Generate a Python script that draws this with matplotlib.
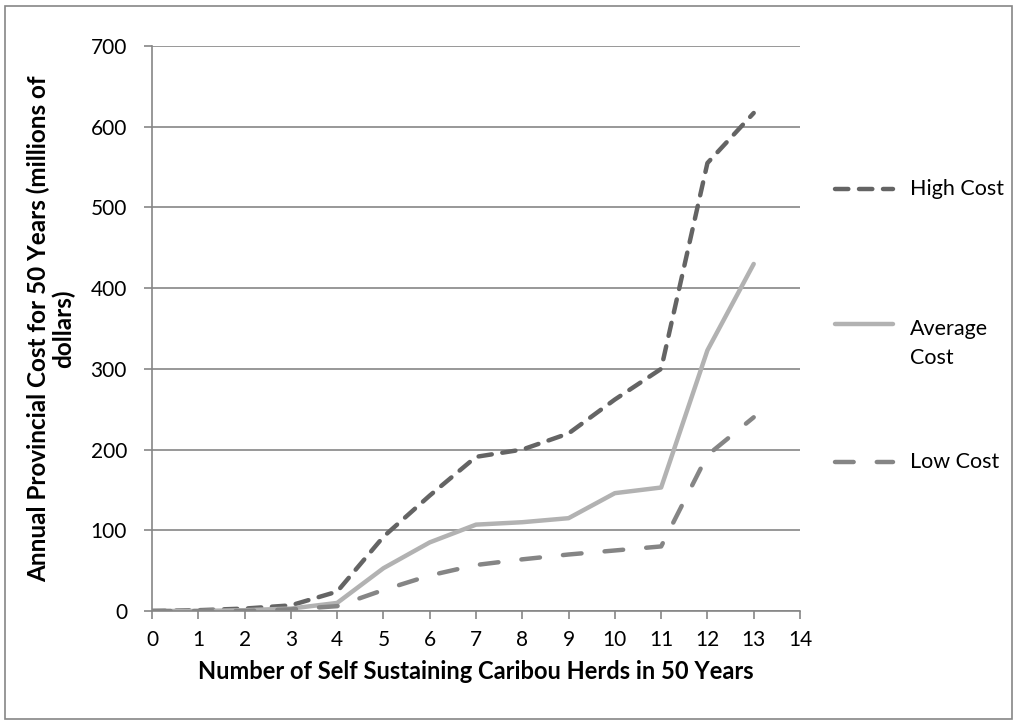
import matplotlib
matplotlib.use("Agg")
import matplotlib.pyplot as plt
from matplotlib.lines import Line2D
from matplotlib.patches import Rectangle

# values
herds = [0, 1, 2, 3, 4, 5, 6, 7, 8, 9, 10, 11, 12, 13]
high_cost = [0, 1, 3, 7, 24, 92, 143, 191, 200, 220, 262, 300, 555, 617]
avg_cost = [0, 0, 1, 3, 10, 53, 85, 107, 110, 115, 146, 153, 323, 430]
low_cost = [0, 0, 0, 2, 6, 26, 44, 57, 64, 70, 75, 80, 193, 240]

series_names = ['High Cost', 'Average\nCost', 'Low Cost']
x_ticks = list(range(0, 15))
y_ticks = list(range(0, 701, 100))

plt.rcParams['font.family'] = ['Lato', 'DejaVu Sans']

W, H = 1017, 724
fig = plt.figure(figsize=(W / 100, H / 100), dpi=100)
ax = fig.add_axes([152 / W, 1 - 611 / H, 648 / W, 565 / H])

# outer chart border
fig.patches.append(Rectangle((5 / W, 5 / H), 1007 / W, 713 / H,
                             transform=fig.transFigure, fill=False,
                             edgecolor='#868686', linewidth=1.2))

lw = 3.2
styles = [
    dict(color='#646464', linestyle=(0, (3, 2.4)), dash_capstyle='round'),
    dict(color='#b2b2b2', linestyle='-', solid_capstyle='round'),
    dict(color='#858585', linestyle=(0, (4.2, 5.2)), dash_capstyle='round'),
]
for vals, st in zip([high_cost, avg_cost, low_cost], styles):
    ax.plot(herds, vals, linewidth=lw, **st)

ax.set_xlim(0, 14)
ax.set_ylim(0, 700)
ax.set_xticks(x_ticks)
ax.set_yticks(y_ticks)
ax.tick_params(axis='both', labelsize=15, colors='#868686', labelcolor='black',
               length=6, width=1.2)
ax.tick_params(axis='x', pad=8)
ax.tick_params(axis='y', pad=12)

ax.grid(axis='y', color='#868686', linewidth=1.2)
ax.set_axisbelow(True)
for s in ['top', 'right']:
    ax.spines[s].set_visible(False)
for s in ['left', 'bottom']:
    ax.spines[s].set_color('#868686')
    ax.spines[s].set_linewidth(1.2)

ax.set_xlabel('Number of Self Sustaining Caribou Herds in 50 Years',
              fontsize=17, fontweight='bold', labelpad=7)
ax.set_ylabel('Annual Provincial Cost for 50 Years (millions of\ndollars)',
              fontsize=17.5, fontweight='bold', labelpad=11, linespacing=1.1,
              multialignment='center')

# legend drawn by hand so the handle sits on the first text line (Excel style)
legend_y = [189, 324, 462]
for name, st, yp in zip(series_names, styles, legend_y):
    yf = 1 - yp / H
    fig.add_artist(Line2D([835 / W, 893 / W], [yf, yf], transform=fig.transFigure,
                          linewidth=lw, **st))
    if '\n' in name:
        fig.text(910 / W, 1 - (yp - 5) / H, name, fontsize=15.5, va='top',
                 ha='left', linespacing=1.55)
    else:
        fig.text(910 / W, yf, name, fontsize=15.5, va='center', ha='left')

fig.savefig('out.png', dpi=100)
